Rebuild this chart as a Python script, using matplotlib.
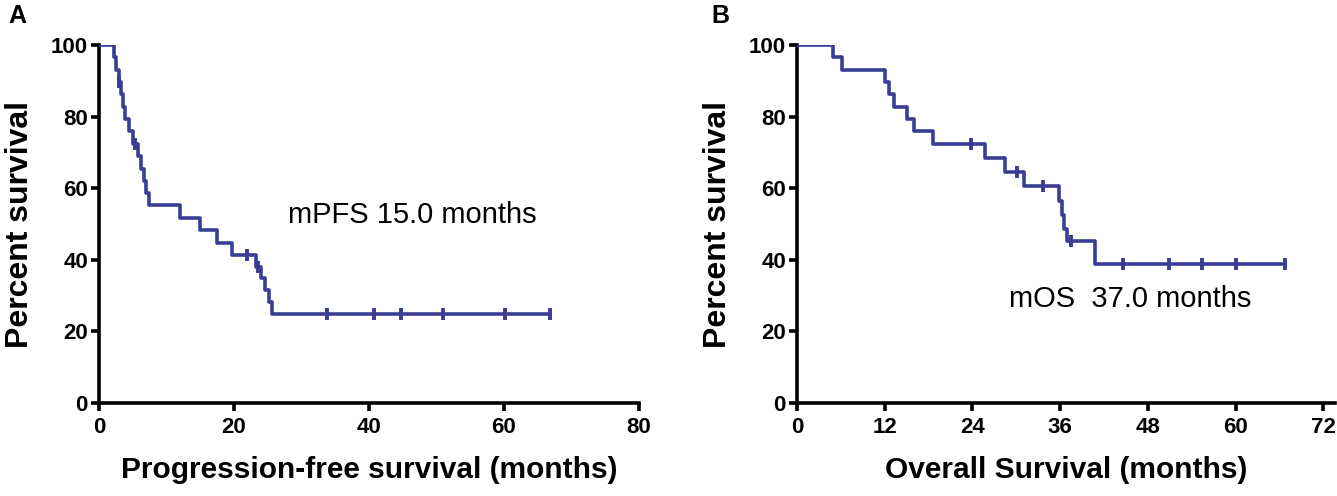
import matplotlib
matplotlib.use("Agg")
import matplotlib.pyplot as plt
import numpy as np

# Panel A: progression-free survival (months, percent)
pfs_times = [0, 2.2, 2.5, 2.9, 3.2, 3.5, 3.9, 4.5, 5.0, 5.8, 6.2, 6.7, 7.0, 7.4,
             12.0, 14.9, 17.5, 19.7, 23.2, 24.0, 24.6, 25.2, 25.7]
pfs_surv = [100, 96.6, 93.1, 89.7, 86.2, 82.8, 79.3, 75.9, 72.4, 69.0, 65.5, 62.1, 58.6, 55.2,
            51.7, 48.3, 44.8, 41.4, 38.1, 34.8, 31.5, 28.2, 25.0]
pfs_end = 66.8
pfs_censor = [3.0, 5.3, 21.9, 23.5, 33.8, 40.8, 44.8, 50.9, 60.1, 66.8]

# Panel B: overall survival
os_times = [0, 4.9, 6.1, 12.1, 12.65, 13.25, 15.1, 16.0, 18.6, 25.7, 28.5, 31.0,
            35.9, 36.2, 36.5, 36.9, 40.7]
os_surv = [100, 96.6, 93.1, 89.7, 86.2, 82.8, 79.3, 75.9, 72.4, 68.5, 64.6, 60.6,
           56.5, 52.5, 48.6, 45.2, 38.9]
os_end = 66.8
os_censor = [23.8, 30.1, 33.6, 37.5, 44.6, 50.9, 55.4, 60.0, 66.8]

pfs_xticks = [0, 20, 40, 60, 80]
os_xticks = [0, 12, 24, 36, 48, 60, 72]
yticks = [0, 20, 40, 60, 80, 100]

line_col = "#3a3d96"
font = ["Liberation Sans", "DejaVu Sans"]

fig = plt.figure(figsize=(13.37, 4.96), dpi=100)
axA = fig.add_axes([99 / 1337, 93 / 496, 540 / 1337, 358 / 496])
axB = fig.add_axes([797 / 1337, 93 / 496, 73.6 * 7.31 / 1337, 358 / 496])


def km(ax, times, surv, end, censor):
    t = list(times) + [end]
    s = list(surv) + [surv[-1]]
    ax.step(t, s, where="post", color=line_col, lw=2.6, zorder=3)
    idx = np.searchsorted(times, censor, side="right") - 1
    cy = np.array(surv)[idx]
    ax.plot(censor, cy, ls="none", marker="|", ms=8, mew=2.8, color=line_col,
            clip_on=False, zorder=4)


def style(ax, xmax, xticks, xlabel):
    ax.set_xlim(0, xmax)
    ax.set_ylim(0, 100)
    ax.set_xticks(xticks)
    ax.set_yticks(yticks)
    for side in ["top", "right"]:
        ax.spines[side].set_visible(False)
    for side in ["left", "bottom"]:
        ax.spines[side].set_linewidth(2.6)
    ax.tick_params(width=2.6, length=6, direction="out")
    ax.tick_params(axis="x", pad=4)
    ax.tick_params(axis="y", pad=2)
    for lab in ax.get_xticklabels() + ax.get_yticklabels():
        lab.set_family(font)
        lab.set_fontweight("bold")
        lab.set_fontsize(16)
    ax.set_xlabel(xlabel, family=font, fontweight="bold", fontsize=21.5, labelpad=13)
    ax.set_ylabel("Percent survival", family=font, fontweight="bold",
                  fontsize=23, labelpad=11)


km(axA, pfs_times, pfs_surv, pfs_end, pfs_censor)
style(axA, 80, pfs_xticks, "Progression-free survival (months)")
axA.text(28.0, 52.5, "mPFS 15.0 months", family=font, fontsize=21, va="center")

km(axB, os_times, os_surv, os_end, os_censor)
style(axB, 73.6, os_xticks, "Overall Survival (months)")
axB.text(29.0, 29, "mOS  37.0 months", family=font, fontsize=21, va="center")

fig.text(8 / 1337, 1 - 16 / 496, "A", family=font, fontweight="bold",
         fontsize=18, va="center")
fig.text(711 / 1337, 1 - 16 / 496, "B", family=font, fontweight="bold",
         fontsize=18, va="center")

fig.savefig("out.png", dpi=100)
